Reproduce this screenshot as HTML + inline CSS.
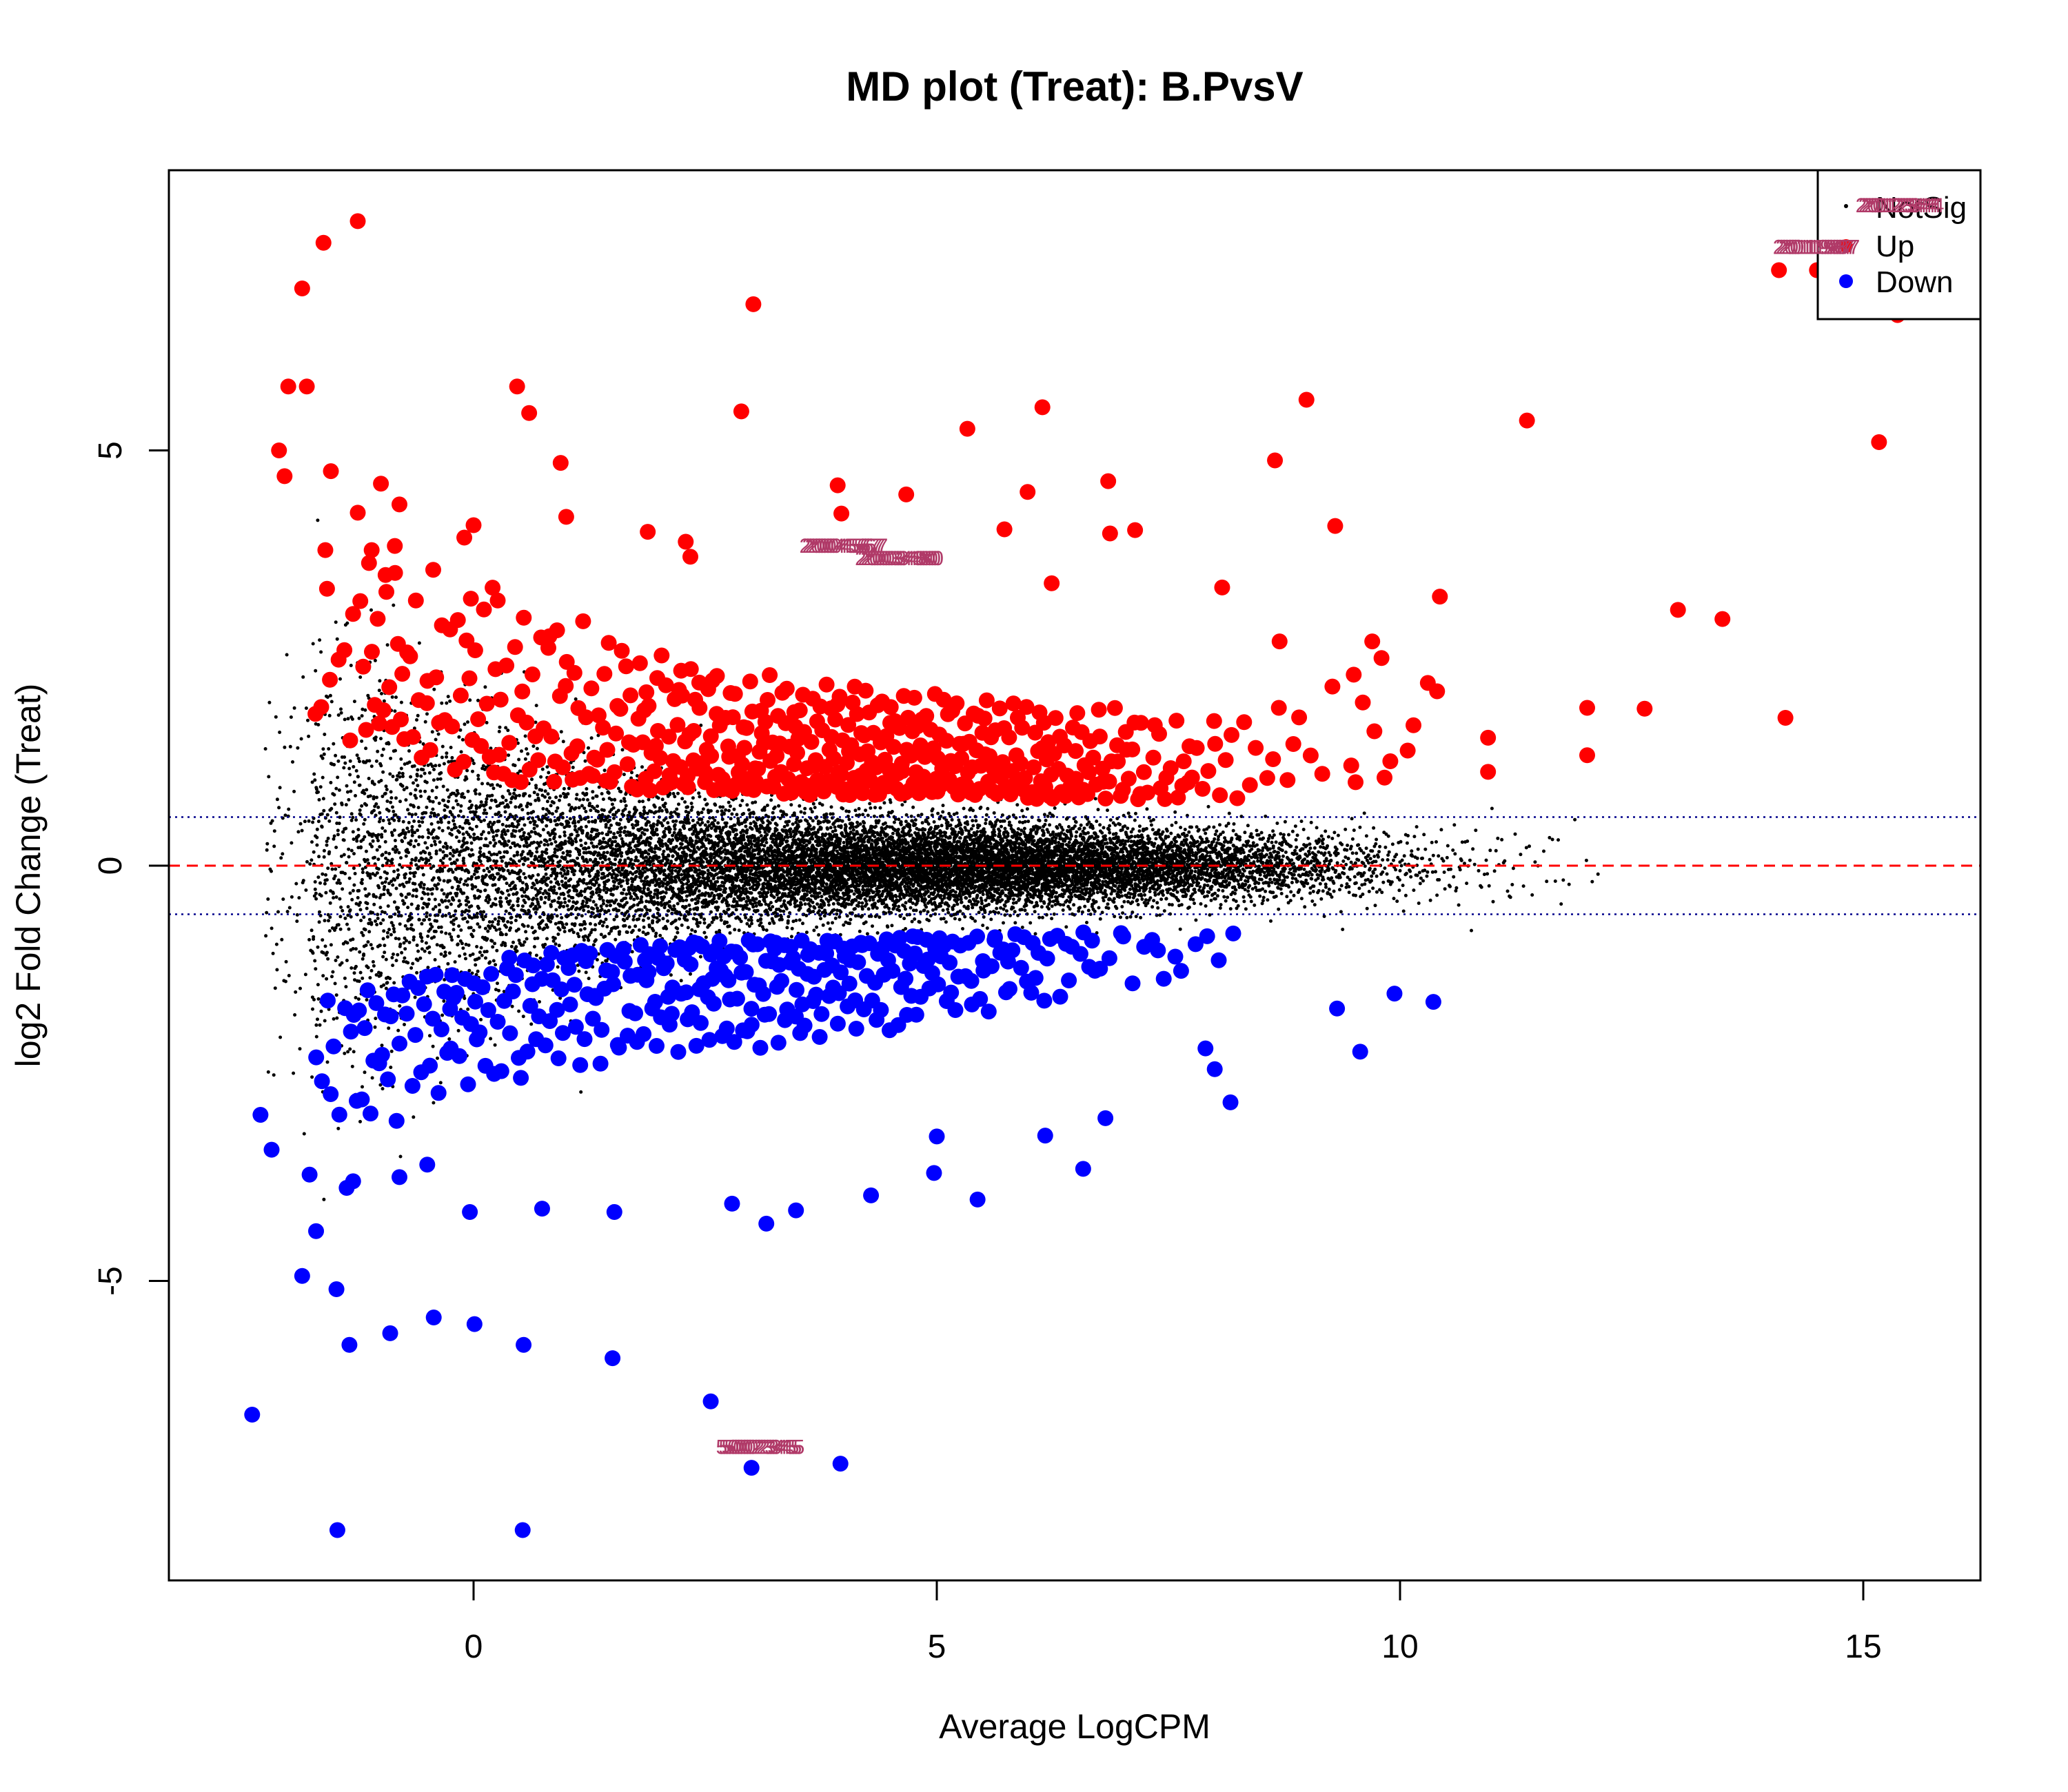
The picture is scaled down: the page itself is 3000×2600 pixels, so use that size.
<!DOCTYPE html>
<html><head><meta charset="utf-8"><style>
html,body{margin:0;padding:0;background:#fff;}
svg{display:block;font-family:"Liberation Sans",Arial,sans-serif;}
</style></head><body>
<svg id="chart" width="3000" height="2600" viewBox="0 0 3000 2600" xmlns="http://www.w3.org/2000/svg">
<rect width="3000" height="2600" fill="#fff"/>
<text x="1559" y="146" font-size="60" font-weight="bold" text-anchor="middle">MD plot (Treat): B.PvsV</text>
<text x="1559" y="2522" font-size="50" text-anchor="middle">Average LogCPM</text>
<text transform="translate(58,1270) rotate(-90)" font-size="50" text-anchor="middle">log2 Fold Change (Treat)</text>
<g id="marks"></g>
<g id="axes"></g>
<g id="legend">
<rect x="2637" y="247" width="236" height="216" fill="#fff" stroke="#000" stroke-width="3"/>
<circle cx="2678" cy="299" r="3" fill="#000"/>
<text x="2721" y="316" font-size="44">NotSig</text>
<circle cx="2678" cy="357" r="10" fill="#ff0000"/>
<text x="2721" y="372" font-size="44">Up</text>
<circle cx="2678" cy="408" r="10" fill="#0000ff"/>
<text x="2721" y="424" font-size="44">Down</text>
</g>
<g id="labels"></g>
</svg>
<script>
// ---- data ----
const xTicks=[0,5,10,15];
const yTicks=[-5,0,5];
const nsBinX=[-2,-1.5,-1,-0.5,0,0.5,1,1.5,2,2.5,3,3.5,4,4.5,5,5.5,6,6.5,7,7.5,8,8.5,9,9.5,10,10.5,11,11.5,12];
const nsBinCount=[80,300,420,440,460,480,510,550,600,640,710,780,830,870,900,870,830,750,640,530,410,300,210,130,80,45,28,14,6];
const nsBinSd=[1.3,1.3,1.15,1.0,0.85,0.75,0.65,0.55,0.47,0.42,0.37,0.33,0.31,0.29,0.28,0.27,0.26,0.25,0.24,0.23,0.22,0.22,0.22,0.22,0.22,0.24,0.27,0.3,0.3];
const upBinX=[-1.5,-1,-0.5,0,0.5,1,1.5,2,2.5,3,3.5,4,4.5,5,5.5,6,6.5,7,7.5,8,8.5,9,9.5,10];
const upBinCount=[8,16,16,18,18,20,22,28,30,32,34,36,36,34,32,28,24,20,14,10,6,5,5,4];
const upBinLo=[1.5,1.6,1.3,1.1,1.0,1.0,0.95,0.9,0.9,0.9,0.85,0.85,0.85,0.85,0.85,0.8,0.8,0.8,0.8,0.8,0.9,1,1,1];
const upBinHi=[3.4,3.8,3.6,3.6,3.3,3.0,2.7,2.6,2.4,2.3,2.2,2.2,2.1,2.1,2.0,2.0,1.9,1.9,1.8,1.9,2.0,2.2,2.2,2.2];
const downBinX=[-1.5,-1,-0.5,0,0.5,1,1.5,2,2.5,3,3.5,4,4.5,5,5.5,6,6.5,7,7.5,8];
const downBinCount=[10,16,16,18,18,20,20,24,26,26,26,24,22,20,16,14,10,6,5,4];
const downBinLo=[-3.2,-3.1,-2.9,-2.7,-2.6,-2.5,-2.4,-2.3,-2.2,-2.2,-2.2,-2.0,-2.0,-1.9,-1.8,-1.7,-1.6,-1.5,-1.4,-1.3];
const downBinHi=[-1.6,-1.5,-1.3,-1.3,-1.1,-1.0,-1.0,-0.95,-0.9,-0.9,-0.9,-0.9,-0.85,-0.85,-0.85,-0.8,-0.8,-0.8,-0.8,-0.8];
const upX=[-1.25,-1.62,-1.85,3.02,-2.0,-1.8,0.47,0.6,2.89,-2.1,-2.04,-1.54,0.94,5.33,6.14,8.99,11.37,15.17,8.65,6.85,5.98,3.93,4.67,3.97,5.73,6.87,7.14,9.3,1.88,2.29,2.34,-1.0,-0.8,-1.25,-1.6,-1.1,-0.85,-0.95,6.24,8.08,10.43,13.0,13.48,14.09,14.5,15.37,14.16,12.64,12.02,12.02,10.95,10.95,10.3,10.4,9.8,9.7,8.7,9.5,1.0,-0.1,0.0];
const upY=[7.76,7.5,6.95,6.76,5.77,5.77,5.77,5.45,5.47,5.0,4.69,4.75,4.85,5.26,5.52,5.61,5.36,5.1,4.88,4.63,4.5,4.58,4.47,4.24,4.05,4.0,4.04,4.09,4.02,3.9,3.72,4.6,4.35,4.25,3.8,3.8,3.85,3.5,3.4,3.35,3.24,3.08,2.97,7.17,7.17,6.63,1.78,1.89,1.9,1.33,1.54,1.13,2.2,2.1,2.5,2.7,2.7,2.3,4.2,3.95,4.1];
const downX=[-2.39,-1.47,0.53,3.0,3.96,2.56,-1.48,-1.85,-1.34,-0.9,-0.43,0.01,0.54,1.5,-1.7,-1.37,-1.77,-2.18,-2.3,-0.04,0.74,1.52,2.79,3.16,3.48,4.29,5.44,9.57,9.94,10.36,9.32,8.17,8.0,7.9,6.82,6.58,6.17,5.0,4.97,-1.3,-0.8,-0.5];
const downY=[-6.61,-8.0,-8.0,-7.25,-7.2,-6.45,-5.1,-4.94,-5.77,-5.63,-5.44,-5.52,-5.77,-5.93,-4.4,-3.88,-3.72,-3.42,-3.0,-4.17,-4.13,-4.17,-4.07,-4.31,-4.15,-3.97,-4.02,-2.24,-1.54,-1.64,-1.72,-2.85,-2.45,-2.2,-3.04,-3.65,-3.25,-3.26,-3.7,-3.8,-3.75,-3.6];
const labelX=[15.35,14.45,3.95,4.55,3.05];
const labelY=[7.95,7.45,3.85,3.7,-7.0];
const labelText=["2012344","2011987","2004567","2003480","5002345"];

// ---- scales ----
const X=v=>687+v*134.4;
const Y=v=>1256-v*120.5;
const L=245,R=2873,T=247,B=2293;
const NS="http://www.w3.org/2000/svg";
function mk(tag,attrs,parent){const e=document.createElementNS(NS,tag);for(const k in attrs)e.setAttribute(k,attrs[k]);parent.appendChild(e);return e;}
function halton(i,b){let f=1,r=0;while(i>0){f/=b;r+=f*(i%b);i=Math.floor(i/b);}return r;}
const marks=document.getElementById('marks');
const clip=mk('clipPath',{id:'pc'},document.getElementById('chart'));
mk('rect',{x:L,y:T,width:R-L,height:B-T},clip);
marks.setAttribute('clip-path','url(#pc)');

const gNs=mk('g',{fill:'#000'},marks);


let idx=1;
nsBinX.forEach((cx,b)=>{
  for(let k=0;k<nsBinCount[b];k++,idx++){
    const u=halton(idx,2),v=Math.max(halton(idx,3),1e-4),w=halton(idx,5);
    const x=cx-0.25+u*0.5;
    let z=Math.sqrt(-2*Math.log(v))*Math.cos(2*Math.PI*w);
    let y=z*nsBinSd[b];
    if(cx>=3&&Math.abs(y)>0.9)y=Math.sign(y)*0.9*halton(idx,7);
    const c=mk('circle',{cx:X(x).toFixed(1),cy:Y(y).toFixed(1),r:2.5},gNs);
    
    
  }
});
const gUp=mk('g',{fill:'#ff0000'},marks);


upBinX.forEach((cx,b)=>{
  for(let k=0;k<upBinCount[b];k++,idx++){
    const x=cx-0.25+halton(idx,2)*0.5;
    const y=upBinLo[b]+(upBinHi[b]-upBinLo[b])*Math.pow(halton(idx,3),1.5);
    const c=mk('circle',{cx:X(x).toFixed(1),cy:Y(y).toFixed(1),r:11.5},gUp);
    
    
  }
});
upX.forEach((x,i)=>{
  const c=mk('circle',{cx:X(x),cy:Y(upY[i]),r:11.5},gUp);
  
  
});
const gDn=mk('g',{fill:'#0000ff'},marks);


downBinX.forEach((cx,b)=>{
  for(let k=0;k<downBinCount[b];k++,idx++){
    const x=cx-0.25+halton(idx,2)*0.5;
    const y=downBinHi[b]-(downBinHi[b]-downBinLo[b])*Math.pow(halton(idx,3),1.5);
    const c=mk('circle',{cx:X(x).toFixed(1),cy:Y(y).toFixed(1),r:11.5},gDn);
    
    
  }
});
downX.forEach((x,i)=>{
  const c=mk('circle',{cx:X(x),cy:Y(downY[i]),r:11.5},gDn);
  
  
});
const l0=mk('line',{x1:L,x2:R,y1:Y(0),y2:Y(0),stroke:'#ff0000','stroke-width':3,'stroke-dasharray':'16,10'},marks);


[0.585,-0.585].forEach(t=>{
  const l=mk('line',{x1:L,x2:R,y1:Y(t),y2:Y(t),stroke:'#00008b','stroke-width':2.5,'stroke-dasharray':'3,6'},marks);
  
  
});
const ax=document.getElementById('axes');
const fr=mk('rect',{x:L,y:T,width:R-L,height:B-T,fill:'none',stroke:'#000','stroke-width':3},ax);


const xa=mk('line',{x1:X(xTicks[0]),x2:X(xTicks[xTicks.length-1]),y1:B,y2:B,stroke:'#000','stroke-width':3},ax);


xTicks.forEach(t=>{
  const tk=mk('line',{x1:X(t),x2:X(t),y1:B,y2:B+29,stroke:'#000','stroke-width':3},ax);
  
  
  const tx=mk('text',{x:X(t),y:2405,'font-size':48,'text-anchor':'middle'},ax);
  tx.textContent=t;
  
  
});
yTicks.forEach(t=>{
  const tk=mk('line',{x1:L-29,x2:L,y1:Y(t),y2:Y(t),stroke:'#000','stroke-width':3},ax);
  
  
  const tx=mk('text',{transform:`translate(176,${Y(t)}) rotate(-90)`,'font-size':48,'text-anchor':'middle'},ax);
  tx.textContent=t;
  
  
});
const lab=document.getElementById('labels');
labelX.forEach((x,i)=>{
  for(let k=0;k<4;k++){
    const tx=mk('text',{x:X(x)+k*4,y:Y(labelY[i])+10,'font-size':30,'text-anchor':'middle',fill:'#b03a68'},lab);
    tx.textContent=labelText[i];
    
    
  }
});
</script>
</body></html>
